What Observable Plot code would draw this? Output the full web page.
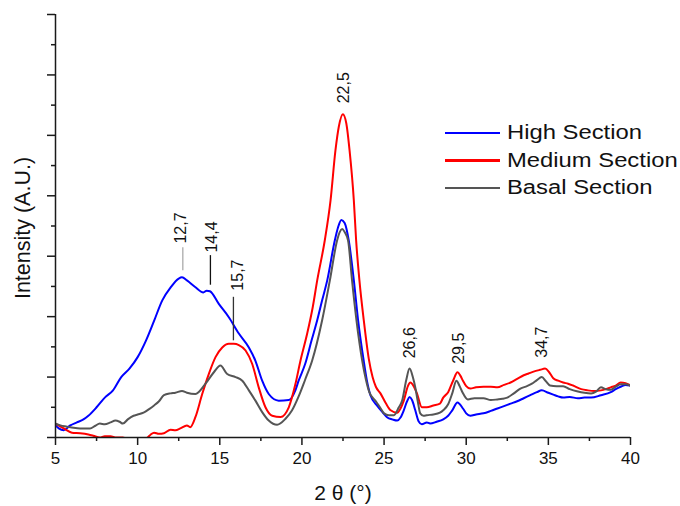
<!DOCTYPE html>
<html><head><meta charset="utf-8">
<script src="https://cdn.jsdelivr.net/npm/d3@7"></script>
<script src="https://cdn.jsdelivr.net/npm/@observablehq/plot@0.6"></script>
<style>
body{margin:0;background:#fff;font-family:"Liberation Sans",Arial,sans-serif;}
#wrap{position:relative;width:680px;height:506px;}
#legend{position:absolute;left:445px;top:119px;font-size:20px;color:#111;}
.row{display:flex;align-items:center;height:27.5px;white-space:nowrap;}
.sw{width:55px;height:2.5px;margin-right:7px;flex:none;}
.tx{display:inline-block;transform:scaleX(1.19);transform-origin:left center;}
</style></head><body><div id="wrap"><div id="legend"></div></div>
<script>
// ---- Data (2θ in degrees, intensity in arbitrary units) ----
const seriesNames = ["High Section", "Medium Section", "Basal Section"];
const seriesColors = ["#0000ff", "#ff0000", "#555555"];

const highSection = [
  [5.0,0.2],[5.2,0.15],[5.5,0.12],[5.9,0.2],[6.3,0.25],[6.7,0.3],[7.0,0.36],[7.5,0.5],[8.0,0.66],[8.5,0.78],
  [9.0,1.0],[9.5,1.14],[10.0,1.33],[10.5,1.6],[11.0,1.93],[11.5,2.27],[12.0,2.48],[12.5,2.63],[12.7,2.65],[13.0,2.6],
  [13.5,2.49],[14.0,2.4],[14.2,2.43],[14.4,2.42],[14.94,2.21],[15.55,1.99],[16.16,1.72],[16.77,1.49],[17.17,1.27],[17.58,0.94],
  [17.98,0.72],[18.59,0.61],[19.2,0.62],[19.6,0.78],[19.8,0.94],[20.2,1.22],[20.58,1.6],[20.93,1.94],[21.23,2.27],[21.54,2.6],
  [22.0,3.26],[22.2,3.48],[22.4,3.6],[22.6,3.55],[22.85,3.26],[23.16,2.6],[23.42,1.94],[23.76,1.27],[23.95,0.95],[24.17,0.7],
  [24.6,0.52],[24.9,0.42],[25.2,0.33],[25.5,0.3],[25.8,0.28],
  [26.0,0.33],[26.2,0.45],[26.4,0.6],[26.55,0.67],[26.7,0.62],[26.9,0.45],[27.1,0.27],[27.3,0.22],[27.6,0.25],[27.8,0.23],
  [28.2,0.26],[28.6,0.3],[28.9,0.36],[29.15,0.45],[29.47,0.58],[29.8,0.48],[30.0,0.4],[30.25,0.36],[30.6,0.38],[31.05,0.4],
  [31.5,0.44],[31.9,0.48],[32.3,0.52],[32.7,0.56],[33.1,0.6],[33.5,0.65],[33.9,0.7],[34.3,0.75],[34.6,0.78],[35.0,0.74],
  [35.3,0.71],[35.6,0.68],[35.9,0.66],[36.3,0.67],[36.8,0.65],[37.2,0.66],[37.6,0.66],[38.2,0.7],[38.8,0.75],[39.1,0.8],
  [39.4,0.84],[39.7,0.87],[40.0,0.86]
];

const mediumSection = [
  [5.0,0.23],[5.5,0.15],[6.0,0.08],[6.5,0.07],[7.0,0.05],[7.3,0.03],[7.7,0.0],[8.0,0.02],[8.35,0.02],[8.7,0.0],
  [9.1,0.0],[9.5,-0.05],[10.0,-0.08],[10.4,-0.03],[10.6,0.0],[10.8,0.05],[11.0,0.08],[11.3,0.06],[11.6,0.07],[12.0,0.13],
  [12.3,0.12],[12.6,0.15],[13.0,0.2],[13.2,0.17],[13.52,0.34],[13.93,0.72],[14.33,1.05],[14.74,1.33],[15.15,1.49],[15.55,1.55],
  [15.85,1.55],[16.16,1.53],[16.57,1.44],[16.97,1.22],[17.37,0.83],[17.78,0.5],[18.19,0.36],[18.7,0.34],[19.2,0.5],[19.6,0.88],
  [19.91,1.27],[20.32,1.72],[20.66,2.16],[20.93,2.6],[21.39,3.26],[21.74,3.92],[22.04,4.75],[22.25,5.15],[22.49,5.35],[22.7,5.2],
  [22.9,4.75],[23.16,3.92],[23.3,3.26],[23.5,2.6],[23.76,1.95],[24.07,1.3],[24.3,1.0],[24.5,0.84],[24.78,0.73],[25.1,0.57],
  [25.4,0.45],[25.8,0.41],[26.0,0.48],[26.2,0.61],
  [26.45,0.85],[26.6,0.91],[26.8,0.85],[27.0,0.73],[27.3,0.5],[27.6,0.5],[28.0,0.53],[28.4,0.56],[28.6,0.66],[28.9,0.75],
  [29.2,0.94],[29.47,1.08],[29.65,1.02],[29.8,0.94],[30.0,0.85],[30.25,0.81],[30.6,0.83],[31.05,0.84],[31.5,0.84],[31.9,0.83],
  [32.3,0.87],[32.7,0.91],[33.1,0.97],[33.5,1.03],[33.8,1.06],[34.1,1.09],[34.5,1.12],[34.8,1.14],[35.05,1.08],[35.3,0.98],
  [35.6,0.94],[35.9,0.91],[36.2,0.89],[36.5,0.86],[37.0,0.8],[37.4,0.78],[37.8,0.77],[38.2,0.78],[38.5,0.8],[38.8,0.83],
  [39.1,0.86],[39.4,0.91],[39.7,0.9],[40.0,0.86]
];

const basalSection = [
  [5.0,0.23],[5.3,0.2],[5.7,0.18],[6.1,0.16],[6.5,0.15],[7.1,0.15],[7.4,0.19],[7.7,0.23],[8.0,0.22],[8.35,0.25],
  [8.65,0.28],[8.9,0.26],[9.1,0.23],[9.4,0.3],[9.75,0.36],[10.0,0.38],[10.36,0.41],[10.7,0.47],[11.0,0.53],[11.3,0.6],
  [11.6,0.7],[12.0,0.73],[12.3,0.74],[12.7,0.77],[13.0,0.74],[13.52,0.72],[14.13,0.89],[14.64,1.08],[15.04,1.19],[15.45,1.05],
  [15.96,1.0],[16.37,0.94],[16.77,0.78],[17.17,0.61],[17.58,0.42],[17.98,0.28],[18.49,0.21],[19.0,0.31],[19.4,0.45],[19.8,0.68],
  [20.2,0.96],[20.62,1.27],[21.23,1.94],[21.7,2.6],[22.14,3.26],[22.3,3.4],[22.45,3.45],[22.6,3.4],[22.81,3.26],[23.05,2.6],
  [23.32,1.94],[23.67,1.27],[23.9,0.95],[24.1,0.75],[24.5,0.6],[24.75,0.5],[25.0,0.4],[25.3,0.37],[25.6,0.37],
  [25.9,0.5],[26.1,0.61],[26.35,0.95],[26.55,1.14],[26.75,1.0],[26.9,0.83],[27.05,0.6],[27.2,0.4],[27.4,0.36],[27.6,0.37],
  [28.0,0.38],[28.4,0.41],[28.6,0.45],[28.9,0.55],[29.15,0.73],[29.4,0.94],[29.6,0.85],[29.77,0.75],[30.1,0.63],[30.5,0.65],
  [31.05,0.65],[31.5,0.62],[31.9,0.63],[32.2,0.64],[32.5,0.66],[32.9,0.73],[33.3,0.81],[33.7,0.85],[34.0,0.89],[34.3,0.95],
  [34.6,1.0],[34.85,0.93],[35.1,0.86],[35.5,0.85],[35.9,0.85],[36.3,0.8],[36.8,0.76],[37.2,0.74],[37.6,0.73],[37.9,0.76],
  [38.2,0.83],[38.5,0.8],[38.8,0.79],[39.1,0.84],[39.4,0.88],[39.7,0.88],[40.0,0.86]
];

// Peak annotations: label, text anchor position (x, y = bottom of rotated text)
const peakLabels = ["12,7", "14,4", "15,7", "22,5", "26,6", "29,5", "34,7"];
const peakLabelX = [12.65, 14.5, 16.1, 22.53, 26.55, 29.56, 34.6];
const peakLabelY = [3.21, 3.06, 2.43, 5.53, 1.31, 1.22, 1.32];
// Leader lines under the first three labels
const leaderX = [12.75, 14.43, 15.83];
const leaderY1 = [2.76, 2.52, 1.6];
const leaderY2 = [3.14, 3.01, 2.32];
const leaderColor = ["#aaaaaa", "#111111", "#333333"];

const xMajorTicks = [5, 10, 15, 20, 25, 30, 35, 40];
const xMinorTicks = [7.5, 12.5, 17.5, 22.5, 27.5, 32.5, 37.5];
const yMajorTicks = [0, 1, 2, 3, 4, 5, 6, 7];
const yMinorTicks = [0.5, 1.5, 2.5, 3.5, 4.5, 5.5, 6.5];

const xTitle = "2 θ (°)";
const yTitle = "Intensity (A.U.)";

// ---- Build ----
const allSeries = [highSection, mediumSection, basalSection];
const labels = peakLabels.map((t, i) => ({t, x: peakLabelX[i], y: peakLabelY[i]}));
const leaders = leaderX.map((x, i) => ({x, y1: leaderY1[i], y2: leaderY2[i], c: leaderColor[i]}));

const axisColor = "#1a1a1a";
const chart = Plot.plot({
  width: 680, height: 506,
  marginLeft: 55, marginRight: 50, marginTop: 14, marginBottom: 69,
  x: {domain: [5, 40], label: null},
  y: {domain: [0, 7], label: null},
  style: {fontFamily: "'Liberation Sans', Arial, sans-serif", color: "#111", background: "#fff"},
  marks: [
    ...allSeries.map((s, i) => Plot.line(s, {
      x: d => d[0], y: d => d[1], stroke: seriesColors[i], strokeWidth: 2,
      curve: "monotone-x", clip: true
    })),
    Plot.ruleX(leaders, {x: "x", y1: "y1", y2: "y2", stroke: "c", strokeWidth: 1.3}),
    Plot.text(labels, {x: "x", y: "y", text: "t", rotate: -90, textAnchor: "start", lineAnchor: "middle", fontSize: 16, fill: "#111"}),
    Plot.axisX(xMinorTicks, {tickSize: 4, tickFormat: () => "", stroke: axisColor, strokeWidth: 1.5}),
    Plot.axisX(xMajorTicks, {tickSize: 8, tickPadding: 6, fontSize: 17, stroke: axisColor, strokeWidth: 1.5, fill: "#111"}),
    Plot.axisY(yMinorTicks, {tickSize: 4, tickFormat: () => "", stroke: axisColor, strokeWidth: 1.5}),
    Plot.axisY(yMajorTicks, {tickSize: 8, tickFormat: () => "", stroke: axisColor, strokeWidth: 1.5}),
    Plot.ruleY([0], {stroke: axisColor, strokeWidth: 1.5}),
    Plot.ruleX([5], {y1: 0, y2: 7, stroke: axisColor, strokeWidth: 1.5}),
    Plot.text([yTitle], {frameAnchor: "left", dx: -32, dy: 2, rotate: -90, textAnchor: "middle", lineAnchor: "middle", fontSize: 21.5, fill: "#111"}),
    Plot.text([xTitle], {frameAnchor: "bottom", dy: 56, textAnchor: "middle", lineAnchor: "middle", fontSize: 21, fill: "#111"})
  ]
});
const wrap = document.getElementById("wrap");
wrap.insertBefore(chart, wrap.firstChild);

const legend = document.getElementById("legend");
seriesNames.forEach((n, i) => {
  const row = document.createElement("div");
  row.className = "row";
  const sw = document.createElement("span");
  sw.className = "sw";
  sw.style.background = seriesColors[i];
  const tx = document.createElement("span");
  tx.className = "tx";
  tx.textContent = n;
  row.appendChild(sw); row.appendChild(tx);
  legend.appendChild(row);
});
</script>
</body></html>
